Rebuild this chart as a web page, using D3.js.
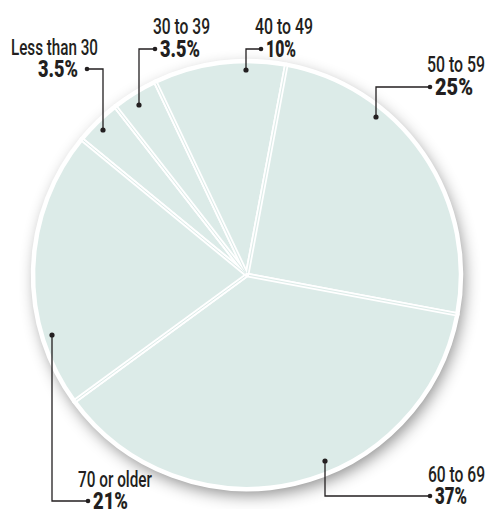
<!DOCTYPE html>
<html>
<head>
<meta charset="utf-8">
<script src="https://cdn.jsdelivr.net/npm/d3@7"></script>
<style>
  html, body { margin: 0; padding: 0; background: #fff; }
  svg { display: block; }
  .lbl { font-family: "Roboto", "Liberation Sans", "DejaVu Sans", sans-serif; fill: #231f20; }
</style>
</head>
<body>
<svg id="chart" width="488" height="509"></svg>
<script>
// Age groups, clockwise from the upper left
const categories = ["Less than 30", "30 to 39", "40 to 49", "50 to 59", "60 to 69", "70 or older"];
const shares = [3.5, 3.5, 10, 25, 37, 21];
const valueLabels = ["3.5%", "3.5%", "10%", "25%", "37%", "21%"];

const cx = 247, cy = 275, R = 214;
const fill = "#dcebe8";
const ink = "#231f20";

const svg = d3.select("#chart");

const defs = svg.append("defs");
const shadow = defs.append("filter").attr("id", "shade")
  .attr("x", "-20%").attr("y", "-20%").attr("width", "140%").attr("height", "140%");
shadow.append("feDropShadow")
  .attr("dx", 3).attr("dy", 6).attr("stdDeviation", 8)
  .attr("flood-color", "#000").attr("flood-opacity", 0.45);

const startDeg = -50.6;
const pie = d3.pie().sort(null).value(d => d)
  .startAngle(startDeg * Math.PI / 180)
  .endAngle(startDeg * Math.PI / 180 + 2 * Math.PI);
const arcs = pie(shares);
const arc = d3.arc().innerRadius(0).outerRadius(R);

const g = svg.append("g").attr("transform", `translate(${cx},${cy})`);

// shadowed disc underneath
g.append("circle").attr("r", R).attr("fill", fill).attr("filter", "url(#shade)");

g.selectAll("path.slice").data(arcs).join("path")
  .attr("class", "slice")
  .attr("d", arc)
  .attr("fill", fill)
  .attr("stroke", "#fff")
  .attr("stroke-width", 4.5)
  .attr("stroke-linejoin", "round");

// thin inner line that splits each white divider into a double rule
g.selectAll("line.split").data(arcs).join("line")
  .attr("class", "split")
  .attr("x1", 0).attr("y1", 0)
  .attr("x2", d => (R - 2) * Math.sin(d.startAngle))
  .attr("y2", d => -(R - 2) * Math.cos(d.startAngle))
  .attr("stroke", fill).attr("stroke-width", 1);

// outer rim
g.append("circle").attr("r", R).attr("fill", "none").attr("stroke", "#fff").attr("stroke-width", 2);
g.append("circle").attr("r", 2.2).attr("fill", "#fff");

// label layout: category text position and width, value width, callout path
const layout = [
  { tx: 11,  ty: 55,  tw: 87, vw: 40, valueLeft: true, dot: [87, 69],  elbow: [103, 69],  end: [103, 130] },
  { tx: 153, ty: 34,  tw: 57, vw: 40, dot: [155, 49], elbow: [139, 49],  end: [139, 105] },
  { tx: 255, ty: 34,  tw: 58, vw: 30, dot: [261, 49], elbow: [246, 49],  end: [246, 70] },
  { tx: 427, ty: 72,  tw: 58, vw: 38, dot: [430, 87], elbow: [376, 87],  end: [376, 117] },
  { tx: 428, ty: 482, tw: 57, vw: 32, dot: [430, 496], elbow: [325, 496], end: [325, 461] },
  { tx: 78,  ty: 487, tw: 74, vw: 35, dot: [88, 501], elbow: [52, 501],  end: [52, 335] }
];

const labels = svg.append("g");
layout.forEach((L, i) => {
  labels.append("path")
    .attr("d", `M${L.dot[0]},${L.dot[1]}H${L.elbow[0]}V${L.end[1]}`)
    .attr("fill", "none").attr("stroke", ink).attr("stroke-width", 1.3);
  labels.append("circle").attr("cx", L.dot[0]).attr("cy", L.dot[1]).attr("r", 2.3).attr("fill", ink);
  labels.append("circle").attr("cx", L.end[0]).attr("cy", L.end[1]).attr("r", 2.6).attr("fill", ink);

  labels.append("text").attr("class", "lbl")
    .attr("x", L.tx).attr("y", L.ty)
    .attr("font-size", 22.5).attr("font-weight", 500)
    .attr("textLength", L.tw).attr("lengthAdjust", "spacingAndGlyphs")
    .text(categories[i]);

  // bold value beside the small dot
  const vx = L.valueLeft ? L.dot[0] - 9 - L.vw : L.dot[0] + 5;
  labels.append("text").attr("class", "lbl")
    .attr("x", vx).attr("y", L.dot[1] + 8)
    .attr("font-size", 23).attr("font-weight", 900)
    .attr("textLength", L.vw).attr("lengthAdjust", "spacingAndGlyphs")
    .text(valueLabels[i]);
});
</script>
</body>
</html>
